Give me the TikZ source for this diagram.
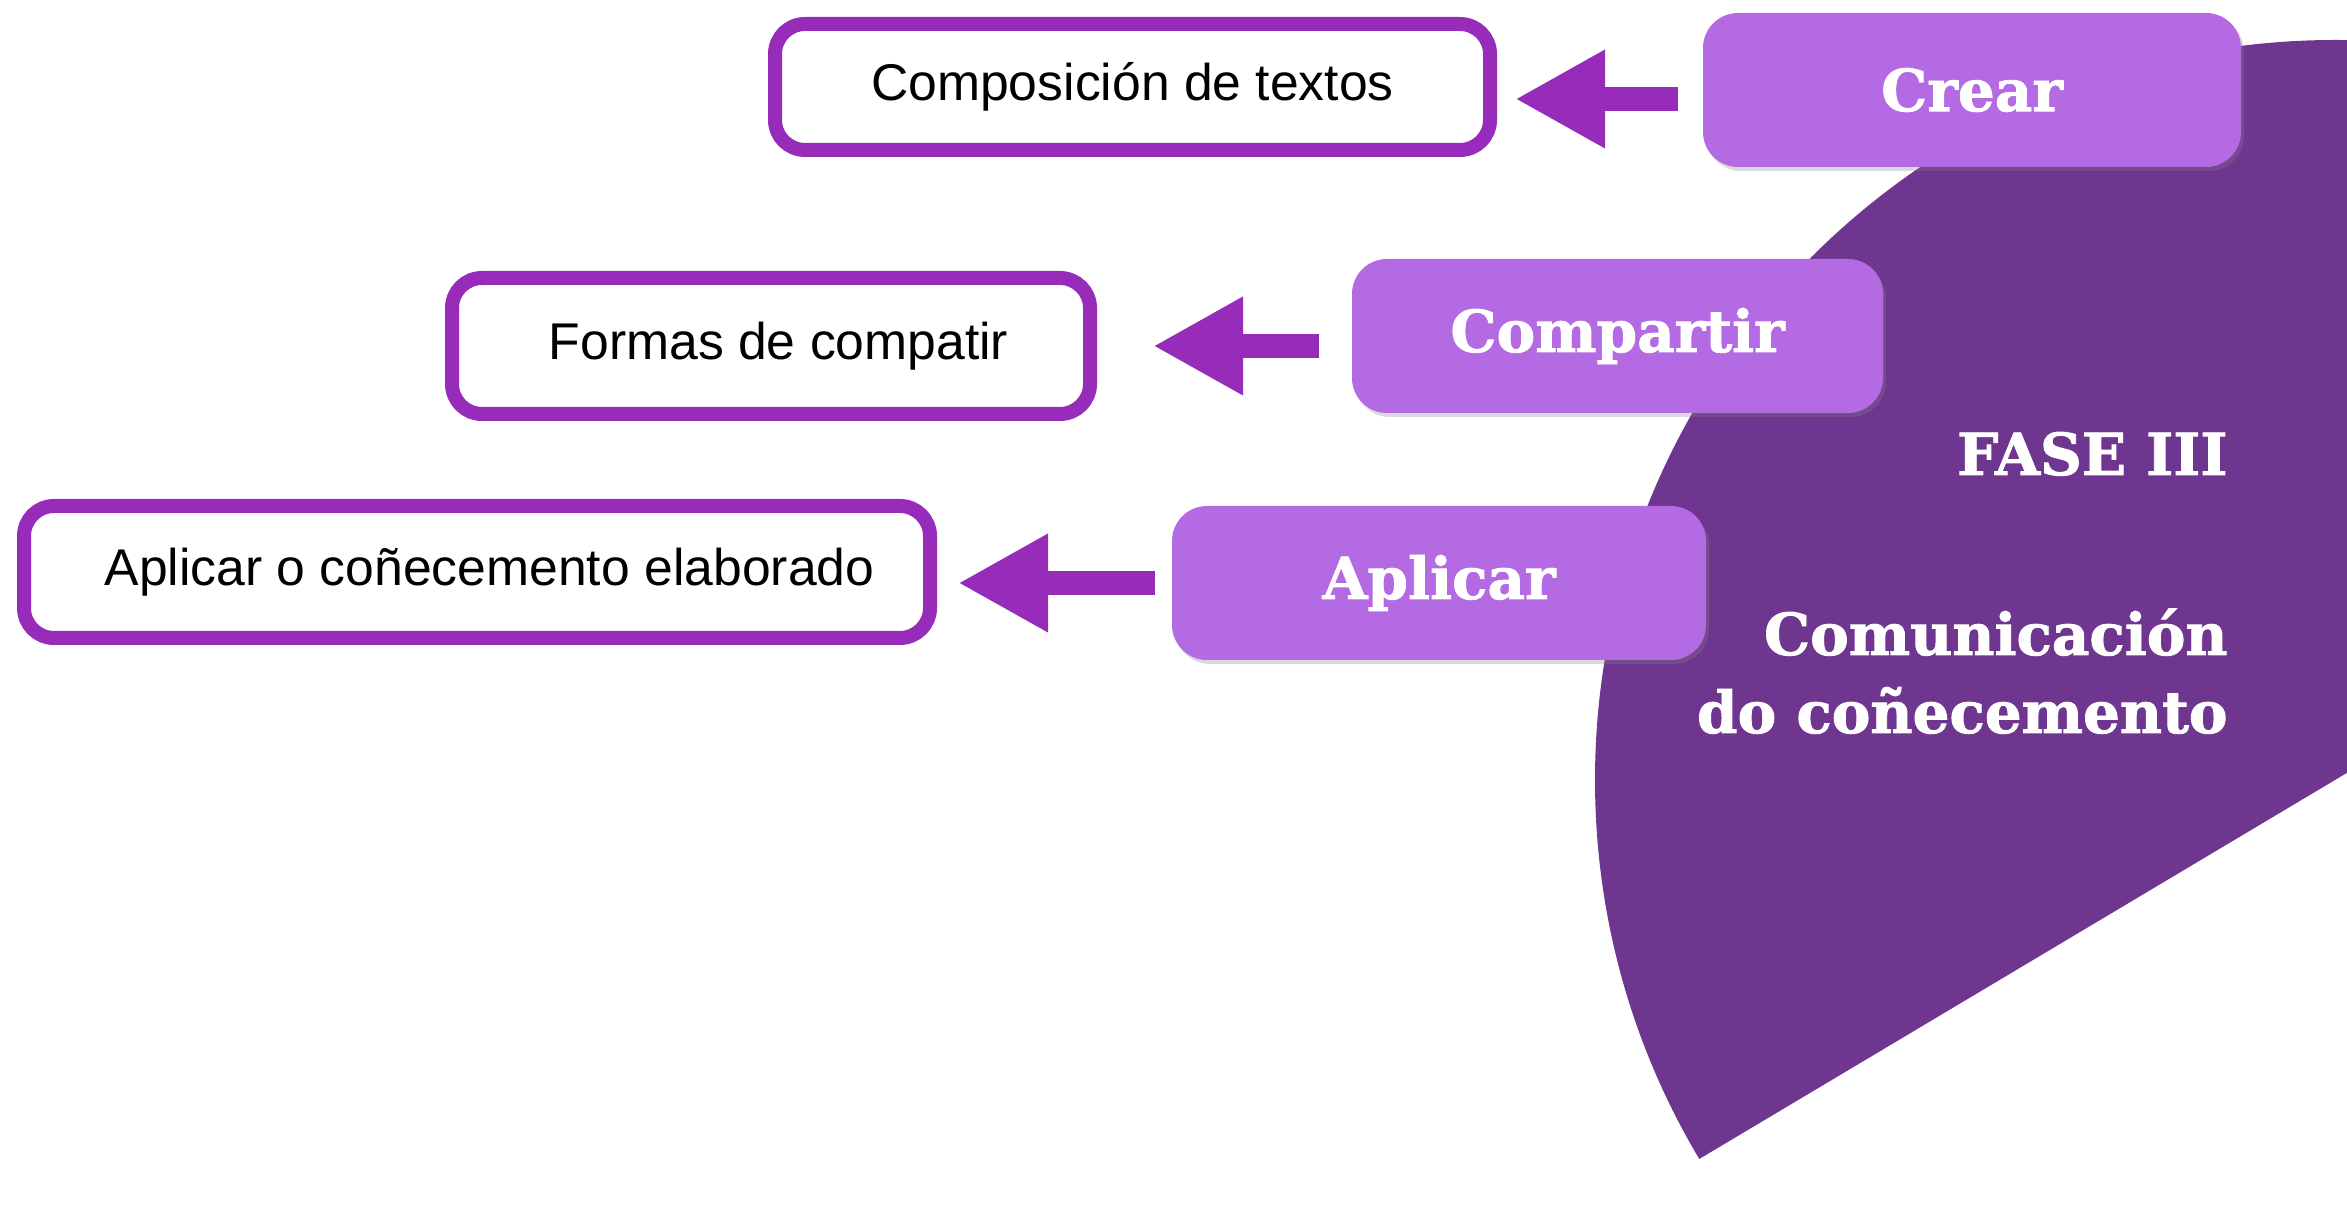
\documentclass[tikz,border=0pt]{standalone}
\usepackage{fontspec}
\setmainfont{Liberation Sans}
\newfontfamily\slabfont{DejaVu Serif}[BoldFeatures={FakeBold=1.5}]
\usetikzlibrary{arrows.meta,shadows}

\definecolor{phasepurple}{HTML}{6F3690}
\definecolor{tagpurple}{HTML}{B36AE2}
\definecolor{linepurple}{HTML}{982CBA}

\begin{document}
\begin{tikzpicture}

        \useasboundingbox (0,0) rectangle (23.47,12.15);

        \begin{scope}
          \clip (0,0) rectangle (23.47,12.15);
          \coordinate (hub) at (23.35,4.35);
          \clip (hub) circle (7.4);
          \fill[phasepurple] (hub) ++(210.8:8) -- ++(30.8:12) -- (27,13) -- (14,13) -- cycle;
        \end{scope}

        \begin{scope}[every node/.style={text=white,font=\slabfont\bfseries\fontsize{16.5}{20}\selectfont,anchor=base east}]
          \node (fase)   at (22.40,7.40) {FASE III};
          \node (title)  at (22.40,5.60) {Comunicación};
          \node (title2) at (22.40,4.82) {do coñecemento};
        \end{scope}

        \begin{scope}[every node/.style={draw=linepurple,line width=0.14cm,fill=white,rounded corners=0.3cm,
            inner sep=0pt,font=\fontsize{14.7}{17}\selectfont,
            drop shadow={opacity=0.35,shadow xshift=0.02cm,shadow yshift=-0.06cm}}]
          \node[minimum width=7.15cm,minimum height=1.26cm] (comp)       at (11.325,11.28) {Composición de textos};
          \node[minimum width=6.38cm,minimum height=1.36cm] (formas)     at (7.71,8.69)    {\hspace{0.15cm}Formas de compatir};
          \node[minimum width=9.06cm,minimum height=1.32cm] (aplicarbox) at (4.77,6.43)    {\hspace{0.25cm}Aplicar o coñecemento elaborado};
        \end{scope}

        \begin{scope}[every node/.style={fill=tagpurple,rounded corners=0.35cm,text=white,inner sep=0pt,
            font=\slabfont\bfseries\fontsize{16.5}{20}\selectfont,minimum height=1.54cm,
            drop shadow={opacity=0.3,shadow xshift=0.03cm,shadow yshift=-0.04cm}}]
          \node[minimum width=5.38cm] (crear)     at (19.72,11.25) {Crear};
          \node[minimum width=5.31cm] (compartir) at (16.175,8.79) {Compartir};
          \node[minimum width=5.34cm] (aplicar)   at (14.39,6.32)  {Aplicar};
        \end{scope}

        \begin{scope}[every edge/.style={draw=linepurple,line width=0.24cm,-{Triangle[length=0.9cm,width=0.92cm]}}]
          \path ([yshift=-0.09cm]crear.west) edge[shorten <=0.24cm,shorten >=0.18cm] ([yshift=-0.09cm]crear.west -| comp.east);
          \path (formas.east -| compartir.west) edge[shorten <=0.32cm,shorten >=0.56cm] (formas.east);
          \path (aplicar.west) edge[shorten <=0.16cm,shorten >=0.21cm] (aplicar.west -| aplicarbox.east);
        \end{scope}

      \end{tikzpicture}
\end{document}
